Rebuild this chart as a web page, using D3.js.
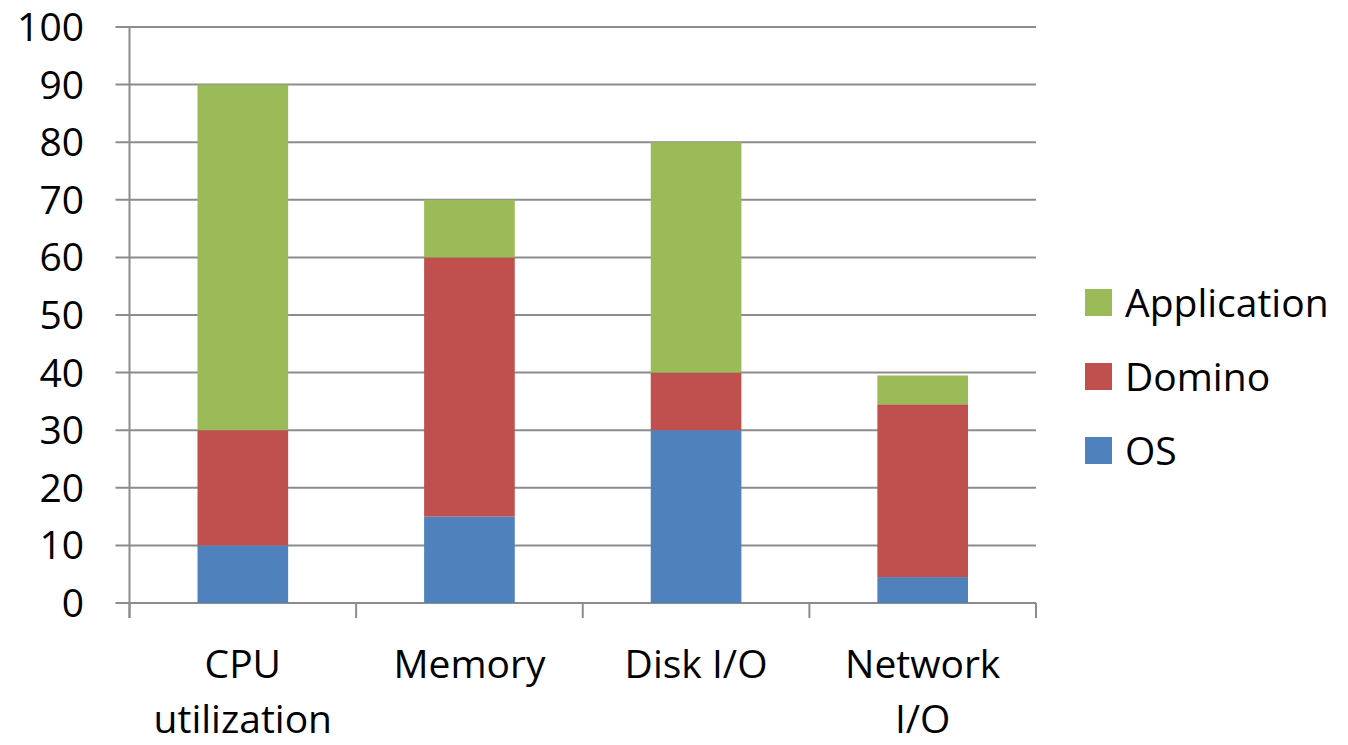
<!DOCTYPE html>
<html>
<head>
<meta charset="utf-8">
<script src="https://cdn.jsdelivr.net/npm/d3@7"></script>
<style>
  html, body { margin: 0; padding: 0; background: #fff; }
  svg { display: block; }
  text { font-family: "Open Sans", "Noto Sans", sans-serif; fill: #000; }
</style>
</head>
<body>
<svg id="chart" width="1348" height="745"></svg>
<script>
// Resource usage breakdown per component
const categories = [["CPU", "utilization"], ["Memory"], ["Disk I/O"], ["Network", "I/O"]];
const seriesNames = ["OS", "Domino", "Application"];
const osValues = [10, 15, 30, 4.5];
const dominoValues = [20, 45, 10, 30];
const applicationValues = [60, 10, 40, 5];
const yTicks = [0, 10, 20, 30, 40, 50, 60, 70, 80, 90, 100];
const colors = ["#4F81BD", "#C0504D", "#9BBB59"];

const svg = d3.select("#chart");
const margin = { left: 129.5, right: 1036, top: 27, bottom: 603 };

const rows = categories.map((c, i) => ({
  key: c.join(" "),
  OS: osValues[i],
  Domino: dominoValues[i],
  Application: applicationValues[i]
}));
const stacked = d3.stack().keys(seriesNames)(rows);

const x = d3.scaleBand()
  .domain(rows.map(d => d.key))
  .range([margin.left, margin.right])
  .paddingInner(0.6)
  .paddingOuter(0.3);
const y = d3.scaleLinear().domain([0, 100]).range([margin.bottom, margin.top]);

// horizontal gridlines
svg.append("g")
  .selectAll("line")
  .data(yTicks)
  .join("line")
  .attr("x1", margin.left - 14)
  .attr("x2", margin.right)
  .attr("y1", d => y(d))
  .attr("y2", d => y(d))
  .attr("stroke", "#8c8c8c")
  .attr("stroke-width", 2);

// y axis line
svg.append("line")
  .attr("x1", margin.left).attr("x2", margin.left)
  .attr("y1", margin.top).attr("y2", margin.bottom + 15)
  .attr("stroke", "#8c8c8c").attr("stroke-width", 2);

// category separators on x axis
const step = (margin.right - margin.left) / categories.length;
svg.append("g")
  .selectAll("line")
  .data(d3.range(categories.length + 1))
  .join("line")
  .attr("x1", i => margin.left + i * step)
  .attr("x2", i => margin.left + i * step)
  .attr("y1", margin.bottom)
  .attr("y2", margin.bottom + 15)
  .attr("stroke", "#8c8c8c").attr("stroke-width", 2);

// stacked bars
svg.append("g")
  .selectAll("g")
  .data(stacked)
  .join("g")
  .attr("fill", (d, i) => colors[i])
  .selectAll("rect")
  .data(d => d)
  .join("rect")
  .attr("x", d => x(d.data.key))
  .attr("width", x.bandwidth())
  .attr("y", d => y(d[1]))
  .attr("height", d => y(d[0]) - y(d[1]));

// y tick labels
svg.append("g")
  .selectAll("text")
  .data(yTicks)
  .join("text")
  .attr("x", 84)
  .attr("y", d => y(d))
  .attr("dy", "0.36em")
  .attr("text-anchor", "end")
  .attr("font-size", 39)
  .text(d => d);

// category labels
const catLabels = svg.append("g")
  .selectAll("text")
  .data(rows.map((r, i) => ({ key: r.key, lines: categories[i] })))
  .join("text")
  .attr("text-anchor", "middle")
  .attr("font-size", 39)
  .attr("x", d => x(d.key) + x.bandwidth() / 2)
  .attr("y", 678);
catLabels.selectAll("tspan")
  .data(d => d.lines.map(l => ({ l, cx: x(d.key) + x.bandwidth() / 2 })))
  .join("tspan")
  .attr("x", d => d.cx)
  .attr("dy", (d, i) => i === 0 ? 0 : 55)
  .text(d => d.l);

// legend
const legendOrder = ["Application", "Domino", "OS"];
const legend = svg.append("g")
  .selectAll("g")
  .data(legendOrder)
  .join("g")
  .attr("transform", (d, i) => `translate(1085, ${289 + i * 74})`);
legend.append("rect")
  .attr("width", 27).attr("height", 27)
  .attr("fill", d => colors[seriesNames.indexOf(d)]);
legend.append("text")
  .attr("x", 40)
  .attr("y", 13.5)
  .attr("dy", "0.36em")
  .attr("font-size", 39)
  .text(d => d);
</script>
</body>
</html>
